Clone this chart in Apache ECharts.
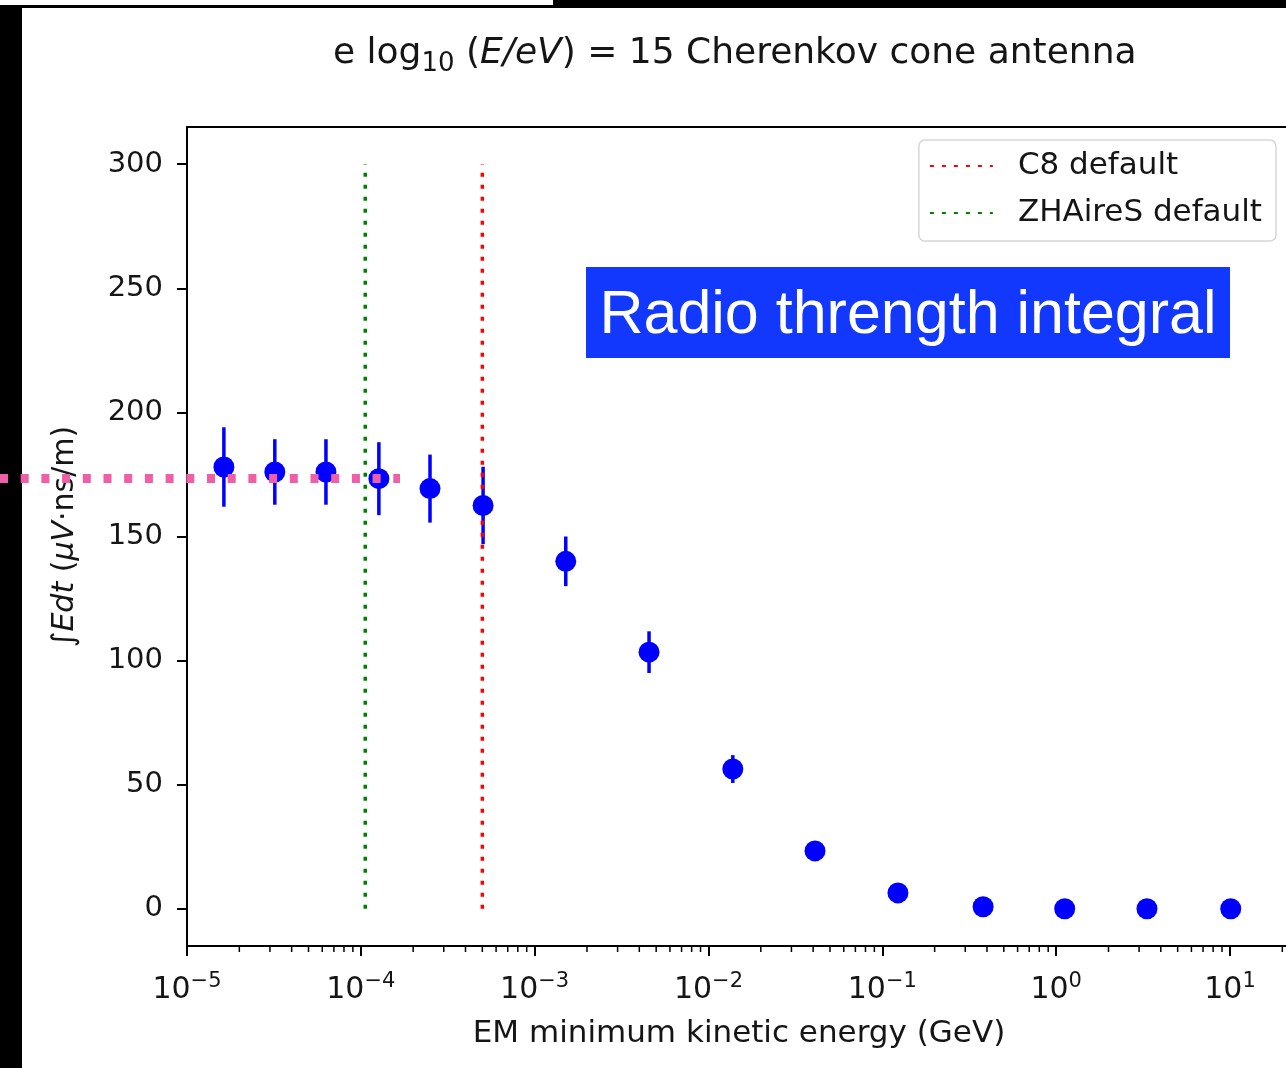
<!DOCTYPE html>
<html>
<head>
<meta charset="utf-8">
<script src="https://cdn.jsdelivr.net/npm/echarts@6/dist/echarts.min.js"></script>
<style>
html, body { margin: 0; padding: 0; background: #fff; }
#main { width: 1286px; height: 1068px; }
</style>
</head>
<body>
<div id="main"></div>
<script>
// values
var energies = [1.63e-5, 3.2e-5, 6.3e-5, 1.27e-4, 2.5e-4, 5.05e-4, 1.51e-3, 4.55e-3, 1.38e-2, 4.1e-2, 0.123, 0.38, 1.12, 3.33, 10.1];
var integrals = [178, 176, 176, 173.3, 169.3, 162.5, 140, 103.4, 56.3, 23.3, 6.4, 0.8, 0, 0, 0];
var errors = [16, 13.2, 13.2, 14.7, 13.7, 15.6, 10, 8.4, 5.6, 3, 2, 1, 0.5, 0.5, 0.5];
var c8Default = 5e-4;
var zhairesDefault = 1.06e-4;
var defaultSpan = [0, 300];
var yTicks = [0, 50, 100, 150, 200, 250, 300];
var xDecades = [-5, -4, -3, -2, -1, 0, 1];
var minorSteps = [2, 3, 4, 5, 6, 7, 8, 9];
var guideLevel = 173; // pink dashed guide

var FONT = 'DejaVu Sans';
var INK = '#151515';

var chart = echarts.init(document.getElementById('main'));

var errData = energies.map(function (e, i) {
  return [e, integrals[i] - errors[i], integrals[i] + errors[i]];
});
var pts = energies.map(function (e, i) { return [e, integrals[i]]; });
var minorTicks = [];
xDecades.forEach(function (d) {
  minorSteps.forEach(function (m) { minorTicks.push([m * Math.pow(10, d), 0]); });
});

function supLabel(v) {
  var p = Math.round(Math.log10(v));
  return '{b|10}{s|' + (p < 0 ? '\u2212' + (-p) : p) + '}';
}

var option = {
  animation: false,
  backgroundColor: '#fff',
  title: {
    text: '{a|e log}{sub|10}{a| (}{i|E/eV}{a|) = 15 Cherenkov cone antenna}',
    left: 333, top: 31, padding: 0,
    textStyle: {
      fontWeight: 'normal',
      rich: {
        a: { fontFamily: FONT, fontSize: 36, fontWeight: 'normal', color: INK, lineHeight: 46 },
        i: { fontFamily: FONT, fontSize: 36, fontWeight: 'normal', color: INK, fontStyle: 'italic', lineHeight: 46 },
        sub: { fontFamily: FONT, fontSize: 26, fontWeight: 'normal', color: INK, verticalAlign: 'bottom' }
      }
    }
  },
  legend: {
    data: ['C8 default', 'ZHAireS default'],
    orient: 'vertical', right: 10, top: 140,
    backgroundColor: '#fff', borderColor: '#d6d6d6', borderWidth: 1.5, borderRadius: 6,
    padding: [8, 14, 10, 10],
    itemWidth: 63, itemHeight: 14, itemGap: 11,
    itemStyle: { opacity: 0 },
    textStyle: { fontFamily: FONT, fontSize: 31, color: INK, lineHeight: 36, padding: [0, 0, 0, 20] }
  },
  grid: {
    left: 187, top: 127, width: 173.83 * 6.5, height: 819,
    show: true, borderColor: '#000', borderWidth: 2, backgroundColor: 'transparent',
    outerBoundsMode: 'none'
  },
  xAxis: {
    type: 'log', logBase: 10, min: 1e-5, max: Math.pow(10, 1.5),
    axisLine: { onZero: false, lineStyle: { color: '#000', width: 2 } },
    axisTick: { length: 10, lineStyle: { color: '#000', width: 2 } },
    splitLine: { show: false },
    axisLabel: {
      margin: 25, showMaxLabel: false, formatter: supLabel,
      rich: {
        b: { fontFamily: FONT, fontSize: 30, color: INK, lineHeight: 38 },
        s: { fontFamily: FONT, fontSize: 21, color: INK, verticalAlign: 'top' }
      }
    }
  },
  yAxis: {
    type: 'value', min: -15, max: 315,
    axisLine: { onZero: false, lineStyle: { color: '#000', width: 2 } },
    axisTick: { length: 10, customValues: yTicks, lineStyle: { color: '#000', width: 2 } },
    splitLine: { show: false },
    axisLabel: { customValues: yTicks, margin: 24, fontFamily: FONT, fontSize: 29, color: INK },
    name: '{i|\u222BEdt} ({i|\u03BCV}\u00B7ns/m)',
    nameLocation: 'middle', nameRotate: 90, nameGap: 107,
    nameTextStyle: {
      fontFamily: FONT, fontSize: 30, color: INK,
      rich: { i: { fontFamily: FONT, fontSize: 30, color: INK, fontStyle: 'italic' } }
    }
  },
  series: [
    {
      type: 'custom', name: 'err', z: 2,
      encode: { x: 0, y: 1 },
      data: errData,
      renderItem: function (params, api) {
        var a = api.coord([api.value(0), api.value(1)]);
        var b = api.coord([api.value(0), api.value(2)]);
        return { type: 'line', shape: { x1: a[0], y1: a[1], x2: b[0], y2: b[1] },
          style: { stroke: '#0000ff', lineWidth: 3.5 } };
      }
    },
    {
      type: 'line', name: 'C8 default', z: 3,
      data: [[c8Default, defaultSpan[0]], [c8Default, defaultSpan[1]]],
      showSymbol: false, symbol: 'none', color: '#ff0000',
      lineStyle: { color: '#ff0000', width: 3.5, type: [4, 8] }
    },
    {
      type: 'line', name: 'ZHAireS default', z: 3,
      data: [[zhairesDefault, defaultSpan[0]], [zhairesDefault, defaultSpan[1]]],
      showSymbol: false, symbol: 'none', color: '#008000',
      lineStyle: { color: '#008000', width: 3.5, type: [4, 8] }
    },
    {
      type: 'scatter', name: 'data', z: 4,
      data: pts, symbolSize: 21,
      itemStyle: { color: '#0000ff', opacity: 1 }
    },
    {
      type: 'custom', name: 'minor', z: 5, silent: true,
      encode: { x: 0, y: 1 },
      data: minorTicks,
      renderItem: function (params, api) {
        var cs = params.coordSys;
        var x = api.coord([api.value(0), 0])[0];
        var y0 = cs.y + cs.height;
        return { type: 'line', shape: { x1: x, y1: y0, x2: x, y2: y0 + 6 },
          style: { stroke: '#000', lineWidth: 1.5 } };
      }
    }
  ]
};
chart.setOption(option);

var guideY = chart.convertToPixel({ yAxisIndex: 0 }, guideLevel);
chart.setOption({
  graphic: [
    { type: 'rect', z: 100, shape: { x: 553, y: 0, width: 733, height: 8 }, style: { fill: '#000' } },
    { type: 'rect', z: 100, shape: { x: 0, y: 5, width: 1286, height: 3 }, style: { fill: '#000' } },
    { type: 'rect', z: 100, shape: { x: 0, y: 8, width: 22, height: 1060 }, style: { fill: '#000' } },
    { type: 'line', z: 110, shape: { x1: 0, y1: guideY - 1, x2: 400, y2: guideY - 1 },
      style: { stroke: '#ef5fa7', lineWidth: 9, lineDash: [8, 12.7] } },
    { type: 'rect', z: 100, shape: { x: 586, y: 267, width: 644, height: 91 }, style: { fill: '#1238fd' } },
    { type: 'text', z: 101, x: 908, y: 316,
      style: { text: 'Radio thrength integral', fill: '#fff', font: '61px "Liberation Sans", Arial, sans-serif',
        textAlign: 'center', textVerticalAlign: 'middle' } },
    { type: 'text', z: 100, x: 739, y: 1034,
      style: { text: 'EM minimum kinetic energy (GeV)', fill: INK, font: '31px "DejaVu Sans"',
        textAlign: 'center', textVerticalAlign: 'middle' } }
  ]
});
window.onresize = chart.resize;
</script>
</body>
</html>
